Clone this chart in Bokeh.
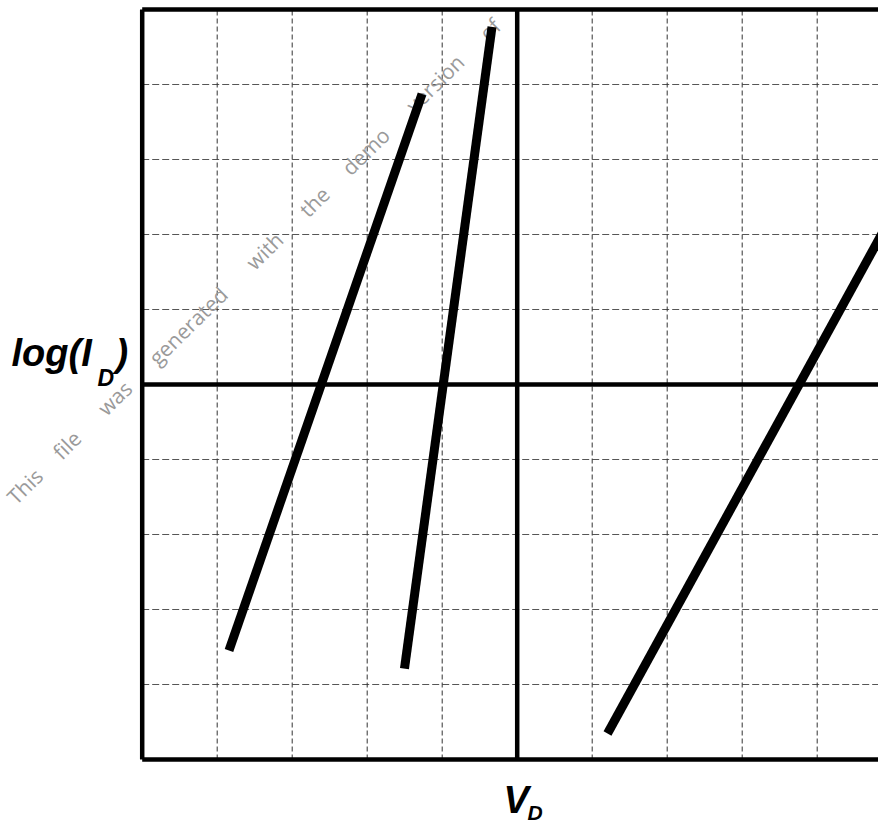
import math
from bokeh.plotting import figure
from bokeh.models import Range1d
from bokeh.core.properties import value
from bokeh.embed import file_html
from bokeh.resources import INLINE

# ---- data (grid units: V_D 0..10, log(I_D) 0..10, centre at 5) ----
curve1_v = [1.157, 3.731]
curve1_logi = [1.453, 8.873]
curve2_v = [3.497, 4.664]
curve2_logi = [1.213, 9.767]
curve3_v = [6.204, 10.0]
curve3_logi = [0.347, 7.26]

grid_ticks = [1, 2, 3, 4, 6, 7, 8, 9]
x_label = "V"
y_label = "log(I"
sub_label = "D"
watermark_words = ["This", "file", "was", "generated", "with", "the",
                   "demo", "version", "of"]
watermark_centres = [6, 65, 132, 235, 342, 412, 484, 581, 658]

# ---- layout (canvas pixels) ----
W, H = 878, 827
SCALE = 75.0          # px per grid unit
X0_PX = 141.7         # canvas px of V=0
Y0_PX = 759.0         # canvas px of logI=0 (from top)
BASE_FIX = 0.4        # baseline correction, in em


def px2x(px):
    return (px - X0_PX) / SCALE


def py2y(py):
    return (Y0_PX - py) / SCALE


def label(txt, px, py, size):
    p.text(x=[px2x(px)], y=[py2y(py - BASE_FIX * size)], text=[txt],
           text_font=value("Liberation Sans"), text_font_style="bold italic",
           text_font_size=f"{size}px", text_align="left",
           text_baseline="alphabetic", text_color="black")


p = figure(width=W, height=H, output_backend="svg", toolbar_location=None,
           x_range=Range1d(px2x(0), px2x(W)),
           y_range=Range1d(py2y(H), py2y(0)),
           min_border=0, min_border_left=0, min_border_right=0,
           min_border_top=0, min_border_bottom=0)
p.axis.visible = False
p.grid.visible = False
p.outline_line_color = None
p.background_fill_color = "white"
p.border_fill_color = "white"

# dashed grid
p.multi_line(xs=[[0, 10] for _ in grid_ticks], ys=[[t, t] for t in grid_ticks],
             line_color="#555555", line_width=1, line_dash="7 3")
p.multi_line(xs=[[t, t] for t in grid_ticks], ys=[[0, 10] for _ in grid_ticks],
             line_color="#333333", line_width=1, line_dash="5 3")

# frame and centre lines
p.multi_line(xs=[[0, 0], [0, 10.5], [0, 10.5], [10, 10]],
             ys=[[0, 10], [10, 10], [0, 0], [0, 10]],
             line_color="black", line_width=4.5)
p.multi_line(xs=[[5, 5], [0, 10.5]], ys=[[0, 10], [5, 5]],
             line_color="black", line_width=4.5)

# watermark
ang = math.radians(44.5)
wx, wy = [], []
for s in watermark_centres:
    wx.append(px2x(20 + s * math.cos(ang)))
    wy.append(py2y(490 - s * math.sin(ang)))
p.text(x=wx, y=wy, text=watermark_words, angle=ang,
       text_font=value("Open Sans"), text_font_size="21px",
       text_color="#9a9a9a", text_align="center", text_baseline="middle")

# curves
for xs, ys in [(curve1_v, curve1_logi), (curve2_v, curve2_logi),
               (curve3_v, curve3_logi)]:
    p.line(xs, ys, line_color="black", line_width=9, line_cap="butt")

# labels
label(y_label, 11, 368, 38)
label(sub_label, 97, 387, 23)
label(")", 115, 368, 38)
label(x_label, 503, 815, 38)
label(sub_label, 527, 820, 21)

open("out.html", "w").write(file_html(p, INLINE))
